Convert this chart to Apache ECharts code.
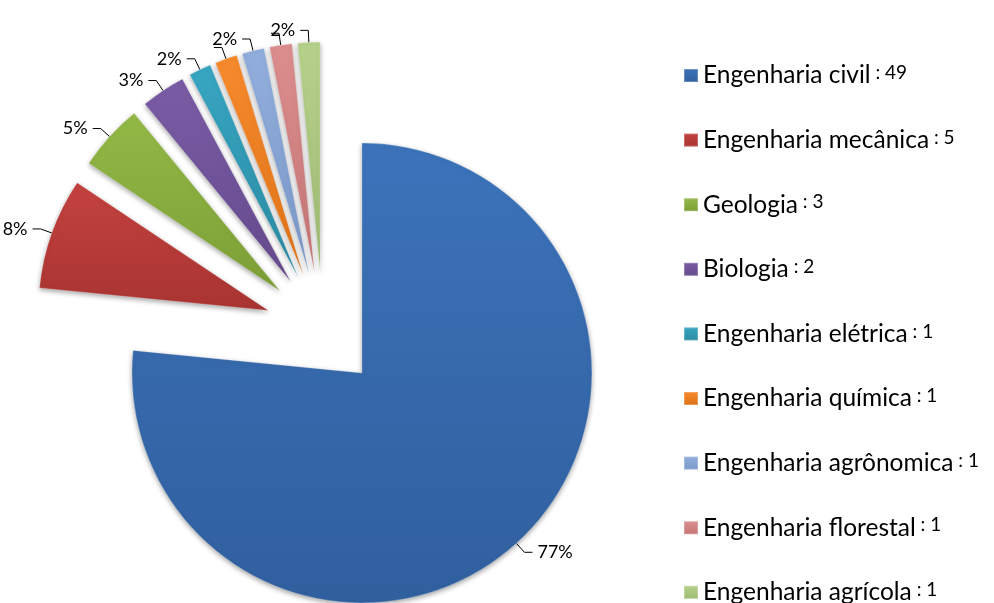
<!DOCTYPE html>
<html>
<head>
<meta charset="utf-8">
<script src="https://cdn.jsdelivr.net/npm/echarts@6/dist/echarts.min.js"></script>
<style>
  html, body { margin: 0; padding: 0; background: #fff; }
  #chart { width: 994px; height: 603px; }
</style>
</head>
<body>
<div id="chart"></div>
<script>
// cursos e numero de alunos
const cursos = [
  'Engenharia civil',
  'Engenharia mecânica',
  'Geologia',
  'Biologia',
  'Engenharia elétrica',
  'Engenharia química',
  'Engenharia agrônomica',
  'Engenharia florestal',
  'Engenharia agrícola',
];
const alunos = [49, 5, 3, 2, 1, 1, 1, 1, 1];
// cores (topo, base) estilo excel 2007
const coresTopo = ['#3c73ba', '#c4423f', '#93b946', '#7a5ca5', '#38a6c2', '#f68a2c', '#91aedc', '#dc8e8e', '#b6d18b'];
const coresBase = ['#305f9e', '#a83432', '#7d9f37', '#654a8c', '#2a8aa3', '#de7218', '#7a98c8', '#c47474', '#9dba72'];

const chart = echarts.init(document.getElementById('chart'));

const valorPorNome = {};
cursos.forEach((c, i) => { valorPorNome[c] = alunos[i]; });

const dados = cursos.map((nome, i) => ({
  name: nome,
  value: alunos[i],
  selected: true,
  itemStyle: {
    color: new echarts.graphic.LinearGradient(0, 0, 0, 1, [
      { offset: 0, color: coresTopo[i] },
      { offset: 1, color: coresBase[i] },
    ]),
  },
}));

const option = {
  backgroundColor: '#fff',
  animation: false,
  legend: {
    orient: 'vertical',
    left: 678,
    top: 58,
    height: 700, // deixa o ultimo item aparecer mesmo cortado
    itemWidth: 14,
    itemHeight: 13,
    itemGap: 39.6,
    icon: 'rect',
    selectedMode: false,
    data: cursos,
    formatter: (name) => '{n|' + name + '}{v| : ' + valorPorNome[name] + '}',
    textStyle: {
      rich: {
        n: { fontFamily: 'Lato', fontSize: 24.5, color: '#000', lineHeight: 28 },
        v: { fontFamily: 'Lato', fontSize: 19, color: '#000', lineHeight: 28, padding: [0, 0, 5, 0] },
      },
    },
  },
  series: [
    {
      type: 'pie',
      center: [323, 330],
      radius: 230,
      startAngle: 90,
      clockwise: true,
      selectedMode: 'multiple',
      selectedOffset: 58,
      avoidLabelOverlap: false,
      emphasis: { disabled: true },
      itemStyle: {
        borderColor: 'rgba(255,255,255,0.25)',
        borderWidth: 1,
        shadowBlur: 5,
        shadowColor: 'rgba(0,0,0,0.35)',
        shadowOffsetY: 2,
      },
      label: {
        show: true,
        position: 'outside',
        fontFamily: 'Lato',
        fontSize: 18,
        color: '#000',
        formatter: (p) => Math.round(p.percent) + '%',
      },
      labelLine: {
        show: true,
        length: 12,
        length2: 8,
        lineStyle: { color: '#000', width: 1 },
      },
      data: dados,
    },
  ],
};
chart.setOption(option);
window.addEventListener('resize', () => chart.resize());
</script>
</body>
</html>
